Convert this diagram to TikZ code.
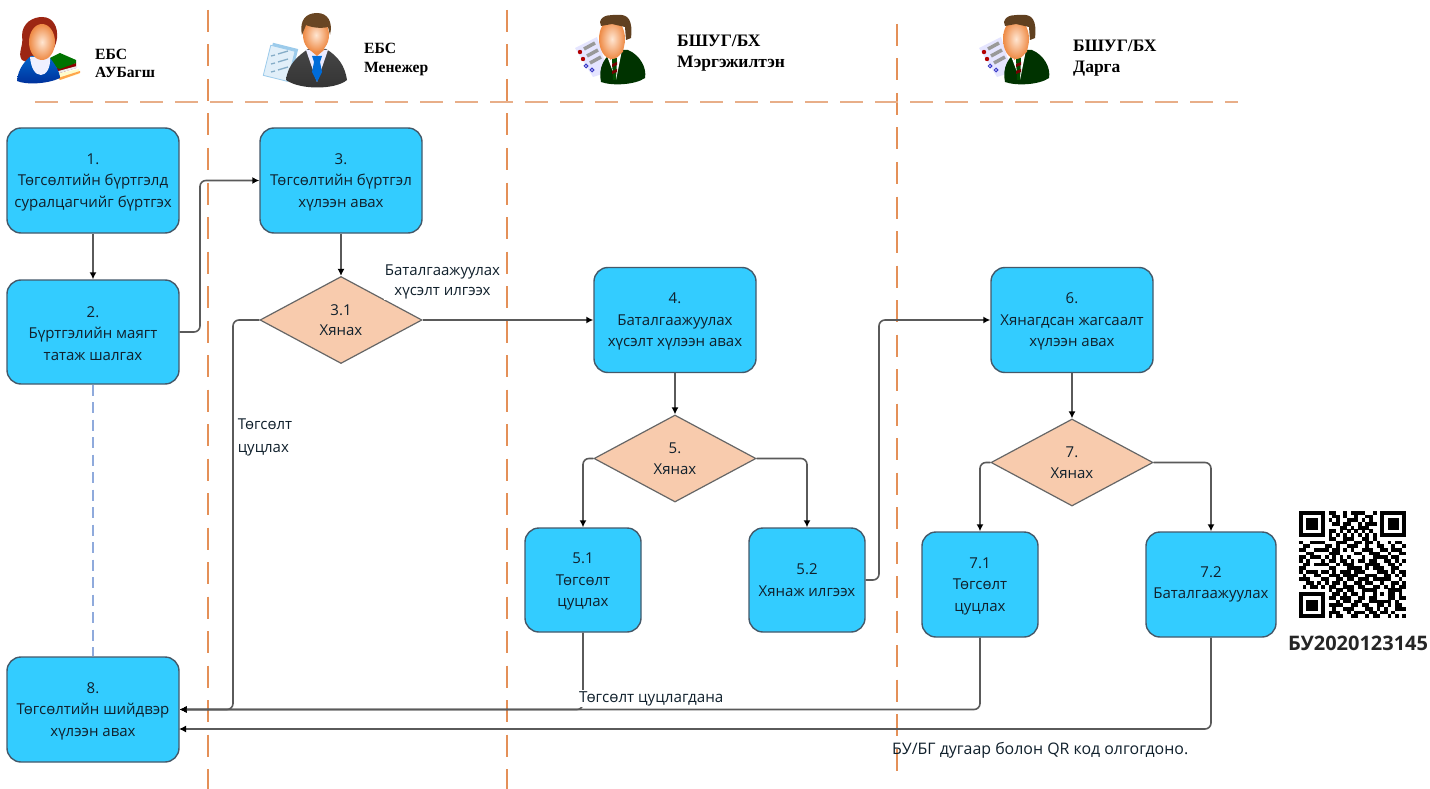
\documentclass[tikz,border=0pt]{standalone}
\usepackage{fontspec}
\setmainfont{Open Sans}
\newfontfamily\headfont{Liberation Serif}
\usetikzlibrary{arrows.meta,shapes.geometric}
\definecolor{boxblue}{HTML}{33CCFF}
\definecolor{boxedge}{HTML}{44596A}
\definecolor{peach}{HTML}{F8CBAD}
\definecolor{peachedge}{HTML}{666666}
\definecolor{inkc}{HTML}{10202C}
\definecolor{laneh}{HTML}{E8AE88}
\definecolor{lanev}{HTML}{E49058}
\definecolor{bluedash}{HTML}{8FAADC}
\definecolor{linec}{HTML}{5A5A5A}
\definecolor{skinin}{HTML}{FFE6D2}
\definecolor{skinout}{HTML}{EE8A45}
\definecolor{paperb}{HTML}{9CCBEB}
\newcommand{\tp}{\rule{0pt}{14pt}}
\tikzset{
  flowbox/.style={draw=boxedge,line width=1.4pt,fill=boxblue,rounded corners=14pt,inner sep=0pt,align=center,text=inkc,font=\fontsize{15}{21.5}\selectfont},
  flowdia/.style={diamond,draw=peachedge,line width=1.2pt,fill=peach,inner sep=0pt,align=center,text=inkc,font=\fontsize{15}{20.5}\selectfont,minimum width=162pt,minimum height=87pt},
  conn/.style={draw=linec,line width=1.6pt,rounded corners=6pt,-{Latex[length=7pt,width=7pt,black]}},
  lanev/.style={draw=lanev,line width=2pt,dash pattern=on 22pt off 12.5pt},
  laneh/.style={draw=laneh,line width=2.2pt,dash pattern=on 23pt off 12pt},
  headlbl/.style={anchor=west,inner sep=0pt,align=left,font=\headfont\bfseries\fontsize{15.6}{18.5}\selectfont,text=black},
  headbig/.style={anchor=west,inner sep=0pt,align=left,font=\headfont\bfseries\fontsize{17.5}{20.5}\selectfont,text=black},
  note/.style={inner sep=1pt,align=center,text=inkc,font=\fontsize{15}{20}\selectfont},
  notew/.style={note,fill=white}
}
\newcount\qrx
\def\qrparse#1{\ifx\relax#1\else\ifnum#1=1 \fill[black] (1299+\the\qrx*3.69,\qrj) rectangle ++(3.75,3.75);\fi\global\advance\qrx by 1 \expandafter\qrparse\fi}
\newcommand{\clerkfig}[1]{%
  \begin{scope}[xshift=#1pt]
    \fill[white!90!blue] (575,48) -- (597,37) -- (608,72) -- (593,77) -- cycle;
    \foreach \xa/\ya/\xb/\yb in {584/49/595/43,587/56/598/50,590/63/601/57}{\draw[gray!80,line width=3.5pt] (\xa,\ya) -- (\xb,\yb);}
    \fill[red!70!black] (580,52) circle (2.2pt);
    \fill[red!70!black] (583,59) circle (2.2pt);
    \draw[blue!55!gray,line width=1pt] (586,66) circle (1.8pt);
    \draw[blue!55!gray,line width=1pt] (592,70) circle (1.8pt);
    \fill[black!20!green!25!black] (601,82) .. controls (598,68) and (604,56) .. (616,50) -- (628,50) .. controls (640,55) and (647,68) .. (645,78) .. controls (635,85) and (612,86) .. (601,82) -- cycle;
    \fill[white] (607,56) -- (622,50) -- (616,80) -- cycle;
    \fill[green!30!black] (612,58) -- (617,58) -- (616,80) -- (613,80) -- cycle;
    \fill[red!45!black] (612,64) -- (617,62) -- (617,65) -- (612,67) -- cycle;
    \fill[red!45!black] (612,71) -- (617,69) -- (617,72) -- (612,74) -- cycle;
    \fill[skinout] (610,48) -- (624,44) -- (623,52) -- (610,60) -- cycle;
    \shade[inner color=skinin,outer color=skinout] (612,39) ellipse (13pt and 20pt);
    \fill[black!50!brown] (600,22) .. controls (602,14) and (612,15) .. (618,15) .. controls (628,14) and (633,20) .. (631,38) -- (626,40) -- (625,27) -- (612,24) -- (601,26) -- cycle;
  \end{scope}}
\begin{document}
\begin{tikzpicture}[x=1pt,y=-1pt]
\useasboundingbox (0,0) rectangle (1430,789);
\fill[white] (0,0) rectangle (1430,789);

% lane lines
\coordinate (v1a) at (208,10);  \coordinate (v1b) at (208,789);
\coordinate (v2a) at (507,10);  \coordinate (v2b) at (507,789);
\coordinate (v3a) at (897,24);  \coordinate (v3b) at (897,775);
\coordinate (h1a) at (35,102);  \coordinate (h1b) at (1238,102);
\draw[lanev] (v1a) -- (v1b);
\draw[lanev] (v2a) -- (v2b);
\draw[lanev] (v3a) -- (v3b);
\draw[laneh] (h1a) -- (h1b);

% woman
\fill[yellow!20!white] (56,74) -- (79,69) -- (79,74) -- (60,80) -- cycle;
\fill[orange!70!white] (58,78) -- (80,71) -- (80,73) -- (60,80) -- cycle;
\fill[red!55!black] (55,68) -- (76,63) -- (76,68) -- (56,74) -- cycle;
\fill[white!85!gray] (55,72) -- (77,66) -- (77,68) -- (56,74) -- cycle;
\fill[green!45!black] (46,60) -- (60,53) -- (76,60) -- (76,63) -- (60,69) -- (46,64) -- cycle;
\fill[black!45!red!70!brown] (22,60) .. controls (17,53) and (24,46) .. (22,36) .. controls (22,22) and (34,17) .. (42,17) .. controls (54,17) and (58,28) .. (57,38) .. controls (56,46) and (52,55) .. (42,58) .. controls (34,63) and (26,63) .. (22,60) -- cycle;
\shade[top color=blue!50!cyan!80!black,bottom color=blue!70!cyan!60!black] (17,81) .. controls (18,68) and (26,60) .. (31,56) -- (48,56) .. controls (54,62) and (60,72) .. (60,78) .. controls (48,84) and (26,85) .. (17,81) -- cycle;
\fill[white!94!blue] (30,57) -- (50,57) .. controls (51,68) and (46,75) .. (41,75) .. controls (35,75) and (31,68) .. (30,57) -- cycle;
\shade[inner color=skinin,outer color=skinout] (42,42) ellipse (13pt and 18pt);

% manager
\fill[paperb,rotate around={-14:(280,60)}] (269,45) rectangle (295,76);
\fill[white!70!paperb,rotate around={-14:(280,62)}] (267,48) rectangle (292,79);
\draw[paperb,line width=0.8pt,rotate around={-14:(280,62)}] (267,48) rectangle (292,79);
\foreach \yy in {53,61,69}{\draw[paperb!85!black,line width=1.3pt] (271,\yy+3) -- (275,\yy+2);\draw[paperb!85!black,line width=1.3pt] (278,\yy+1) -- (288,\yy-2);}
\shade[top color=gray!55!black,bottom color=black!80] (286,80) .. controls (288,64) and (298,56) .. (308,49) -- (326,49) .. controls (338,56) and (345,66) .. (347,80) .. controls (335,90) and (300,90) .. (286,80) -- cycle;
\fill[blue!8!white] (306,50) -- (328,50) -- (317,82) -- cycle;
\fill[blue!50!cyan!85!black] (312,56) -- (322,56) -- (320,62) -- (322,72) -- (317,82) -- (312,72) -- (314,62) -- cycle;
\fill[skinout] (310,42) -- (324,42) -- (324,50) -- (317,56) -- (310,50) -- cycle;
\shade[inner color=skinin,outer color=skinout] (316,35) ellipse (13pt and 17pt);
\fill[brown!55!black] (302,35) .. controls (299,20) and (306,13) .. (317,13) .. controls (328,13) and (333,22) .. (330,35) -- (328,27) .. controls (320,29) and (310,27) .. (306,25) -- cycle;

% clerks
\clerkfig{0}
\clerkfig{404}

% header labels
\node[headlbl] (t1) at (95,63.5) {ЕБС\\АУБагш};
\node[headlbl] (t2) at (364,59.5) {ЕБС\\Менежер};
\node[headbig] (t3) at (677,53) {БШУГ/БХ\\Мэргэжилтэн};
\node[headbig] (t4) at (1073,58) {БШУГ/БХ\\Дарга};

\node[flowbox,minimum width=172pt,minimum height=105pt] (b1) at (93,180.5) {\tp 1.\\Төгсөлтийн бүртгэлд\\суралцагчийг  бүртгэх};
\node[flowbox,minimum width=172pt,minimum height=104pt] (b2) at (93,332) {\tp 2.\\Бүртгэлийн маягт\\татаж шалгах};
\node[flowbox,minimum width=162pt,minimum height=105pt] (b3) at (341,180.5) {\tp 3.\\Төгсөлтийн бүртгэл\\хүлээн авах};
\node[flowdia] (d31) at (341,320) {3.1\\Хянах};
\node[flowbox,minimum width=162pt,minimum height=105pt] (b4) at (675,320) {\tp 4.\\Баталгаажуулах\\хүсэлт хүлээн авах};
\node[flowdia] (d5) at (675,458.5) {5.\\Хянах};
\node[flowbox,minimum width=116pt,minimum height=104pt] (b51) at (583,580) {\tp 5.1\\Төгсөлт\\цуцлах};
\node[flowbox,minimum width=116pt,minimum height=104pt] (b52) at (807,580) {5.2\\Хянаж илгээх};
\node[flowbox,minimum width=162pt,minimum height=105pt] (b6) at (1072,320) {\tp 6.\\Хянагдсан жагсаалт\\хүлээн авах};
\node[flowdia] (d7) at (1072,462.5) {7.\\Хянах};
\node[flowbox,minimum width=116pt,minimum height=105pt] (b71) at (980,584.5) {\tp 7.1\\Төгсөлт\\цуцлах};
\node[flowbox,minimum width=130pt,minimum height=105pt] (b72) at (1211,584.5) {7.2\\Баталгаажуулах};
\node[flowbox,minimum width=172pt,minimum height=105pt] (b8) at (93,709.5) {\tp 8.\\Төгсөлтийн шийдвэр\\хүлээн авах};

\coordinate (c2) at (200,250);
\coordinate (c31) at (233,500);
\coordinate (c5a) at (583,458.5);
\coordinate (c5b) at (807,458.5);
\coordinate (c52) at (879,450);
\coordinate (c7a) at (980,462.5);
\coordinate (c7b) at (1211,462.5);
\coordinate (e8b) at (179,729);

\draw[conn] (b1) -- (b2);
\draw[bluedash,line width=2pt,dash pattern=on 11pt off 6.5pt] (b2) -- (b8);
\draw[conn] (b2.east) -| (c2) |- (b3.west);
\draw[conn] (b3) -- (d31);
\draw[conn] (d31.east) -- (b4.west);
\draw[conn] (d31.west) -| (c31) |- (b8.east);
\draw[conn] (b4) -- (d5);
\draw[conn] (d5.west) -- (c5a) -- (b51.north);
\draw[conn] (d5.east) -- (c5b) -- (b52.north);
\draw[conn] (b52.east) -| (c52) |- (b6.west);
\draw[conn] (b6) -- (d7);
\draw[conn] (d7.west) -- (c7a) -- (b71.north);
\draw[conn] (d7.east) -- (c7b) -- (b72.north);
\draw[conn] (b51.south) |- (b8.east);
\draw[conn] (b71.south) |- (b8.east);
\draw[conn] (b72.south) |- (e8b);

% labels on connectors
\node[notew] (n1) at (442.5,281.5) {Баталгаажуулах\\хүсэлт илгээх};
\node[note,align=left,font=\fontsize{15}{23}\selectfont] (n2) at (265,437) {Төгсөлт\\цуцлах};
\node[notew,anchor=west,font=\fontsize{15.2}{20}\selectfont] (n3) at (578,698.5) {Төгсөлт цуцлагдана};
\node[note,anchor=west,font=\fontsize{15.9}{20}\selectfont] (n4) at (891,750.5) {БУ/БГ дугаар болон QR код олгогдоно.};

% QR code
\foreach \r [count=\k from 0] in {
11111110110010111100101111111,
10000010011010010011001000001,
10111010101001110101001011101,
10111010011011001011101011101,
10111010000110101110001011101,
10000010110101010101001000001,
11111110101010101010101111111,
00000000110011100110100000000,
10011110001110011011010010110,
01100001101001110010011001001,
11001111011010100111001101110,
00110000111000011001110010011,
11011101010101000100111101100,
10100010110110101101100110101,
01101111001011100011110011010,
11000000110001111010111001100,
10111011010111011100011101011,
01001100111011110011100110101,
11100011001101101110111110010,
00110101011010011011001001101,
01011010110011101100110101011,
00000000101101100111100011110,
11111110011010110100101011010,
10000010110111001101100011011,
10111010001011011001111110100,
10111010111100110110011010110,
10111010010011100011010100111,
10000010111001011101101101000,
11111110101100110010110010101}{
  \pgfmathsetmacro{\qrj}{511+\k*3.69}
  \global\qrx=0
  \expandafter\qrparse\r\relax
}
\node[inner sep=0pt,font=\bfseries\fontsize{20}{24}\selectfont,text=black!85] (qrt) at (1358,643) {БУ2020123145};
\end{tikzpicture}
\end{document}
